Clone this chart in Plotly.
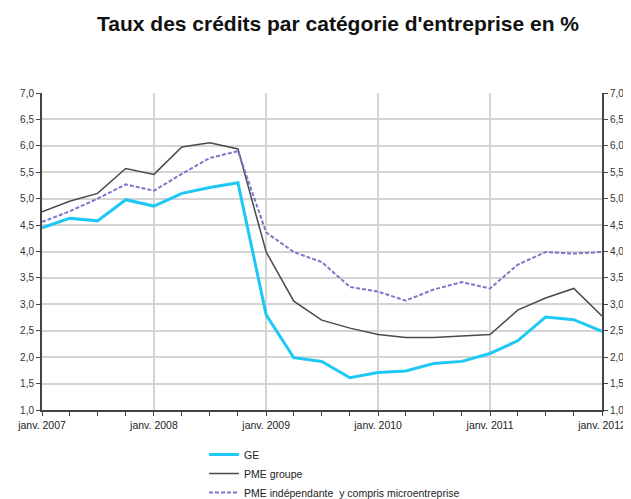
import plotly.graph_objects as go

dates = ["2007-01-01","2007-04-01","2007-07-01","2007-10-01",
         "2008-01-01","2008-04-01","2008-07-01","2008-10-01",
         "2009-01-01","2009-04-01","2009-07-01","2009-10-01",
         "2010-01-01","2010-04-01","2010-07-01","2010-10-01",
         "2011-01-01","2011-04-01","2011-07-01","2011-10-01",
         "2012-01-01"]

ge = [4.45, 4.63, 4.58, 4.98, 4.86, 5.10, 5.21, 5.30,
      2.80, 1.99, 1.92, 1.61, 1.71, 1.74, 1.88, 1.92,
      2.07, 2.31, 2.76, 2.71, 2.49]

pme_groupe = [4.75, 4.95, 5.10, 5.57, 5.46, 5.98, 6.06, 5.94,
              3.99, 3.06, 2.70, 2.55, 2.43, 2.37, 2.37, 2.40,
              2.43, 2.89, 3.12, 3.30, 2.78]

pme_indep = [4.56, 4.76, 5.00, 5.27, 5.15, 5.47, 5.77, 5.90,
             4.36, 3.99, 3.80, 3.33, 3.24, 3.07, 3.28, 3.42,
             3.30, 3.75, 3.99, 3.96, 3.99]

year_ticks = ["2007-01-01","2008-01-01","2009-01-01","2010-01-01","2011-01-01","2012-01-01"]
year_labels = ["janv. 2007","janv. 2008","janv. 2009","janv. 2010","janv. 2011","janv. 2012"]
y_ticks = [1.0,1.5,2.0,2.5,3.0,3.5,4.0,4.5,5.0,5.5,6.0,6.5,7.0]

FONT = "Liberation Sans, Arial, sans-serif"
OFF = 8  # default page body margin
W, H = 631 - OFF, 499 - OFF

fig = go.Figure()
fig.add_trace(go.Scatter(x=dates, y=ge, name="GE", mode="lines",
                         line=dict(color="#1ec8f5", width=3)))
fig.add_trace(go.Scatter(x=dates, y=pme_groupe, name="PME groupe", mode="lines",
                         line=dict(color="#4a4a4a", width=1.5)))
fig.add_trace(go.Scatter(x=dates, y=pme_indep, name="PME indépendante  y compris microentreprise",
                         mode="lines", line=dict(color="#7a78c8", width=2, dash="4px,2px")))
fig.add_trace(go.Scatter(x=dates, y=ge, yaxis="y2", mode="lines", showlegend=False,
                         hoverinfo="skip", line=dict(color="rgba(0,0,0,0)", width=0)))

fig.update_layout(
    width=W, height=H,
    paper_bgcolor="white", plot_bgcolor="white",
    separators=", ",
    font=dict(family=FONT, size=10, color="#333"),
    margin=dict(l=42 - OFF, r=29, t=93 - OFF, b=89, autoexpand=False),
    title=dict(text="<b>Taux des crédits par catégorie d'entreprise en %</b>",
               x=(338 - OFF) / W, xanchor="center", xref="container",
               y=1 - (24 - OFF) / H, yanchor="middle", yref="container",
               font=dict(family=FONT, size=21, color="#111")),
    xaxis=dict(type="date", range=["2007-01-01","2012-01-01"],
               tickvals=year_ticks, ticktext=year_labels, tickangle=0,
               showgrid=True, gridcolor="#d4d4d4", gridwidth=1.5,
               showline=True, linecolor="#444", linewidth=2,
               ticks="outside", ticklen=4, tickcolor="#444",
               tickfont=dict(size=10.5, color="#222"),
               minor=dict(dtick="M3", tick0="2007-01-01", ticks="outside", ticklen=4,
                          tickcolor="#444", showgrid=False),
               zeroline=False, automargin=False),
    yaxis=dict(range=[1.0, 7.0], tickvals=y_ticks, tickformat=".1f",
               showgrid=True, gridcolor="#d4d4d4", gridwidth=1.5,
               showline=True, linecolor="#444", linewidth=2,
               ticks="outside", ticklen=4, tickcolor="#444",
               tickfont=dict(size=10, color="#333"), zeroline=False, automargin=False),
    yaxis2=dict(range=[1.0, 7.0], tickvals=y_ticks, tickformat=".1f",
                overlaying="y", side="right", showgrid=False,
                showline=True, linecolor="#444", linewidth=2,
                ticks="outside", ticklen=4, tickcolor="#444",
                tickfont=dict(size=10, color="#333"), zeroline=False, automargin=False),
    legend=dict(x=(204 - 42) / 560, y=(410 - 440) / 317,
                xanchor="left", yanchor="top",
                font=dict(size=10.5, color="#222"), bgcolor="rgba(0,0,0,0)",
                tracegroupgap=0, itemwidth=30),
    showlegend=True,
)

fig.write_html("out.html")
